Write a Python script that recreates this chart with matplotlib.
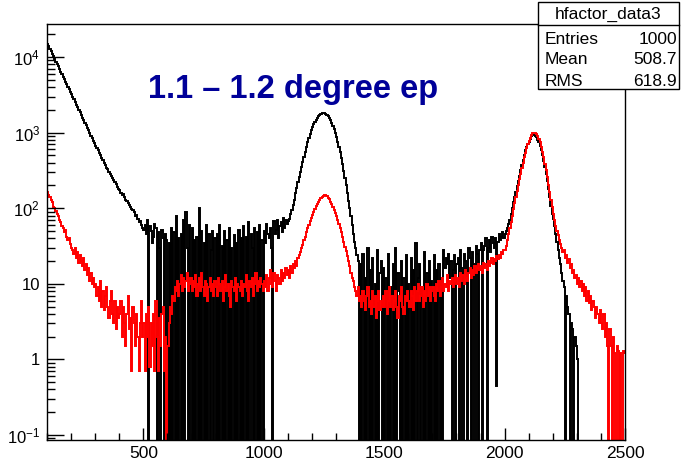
import numpy as np
import matplotlib
matplotlib.use("Agg")
import matplotlib.pyplot as plt
from matplotlib.ticker import MultipleLocator, LogLocator, FixedLocator, FuncFormatter, NullFormatter

plt.rcParams['font.family'] = ['Liberation Sans', 'DejaVu Sans']
plt.rcParams['mathtext.default'] = 'regular'

# histogram binning: 5 units per bin from 100 to 2500
bin_lo = 100
bin_hi = 2500
bin_w = 5

# black histogram (one row = 100 units)
black_counts = [
    15000, 13900, 12800, 11900, 11000, 10200, 9400, 8700, 8000, 7500, 6900, 6400, 5900, 5500, 5100, 4700, 4350, 4000, 3750, 3450,
    3200, 2950, 2750, 2550, 2350, 2150, 2000, 1850, 1720, 1580, 1460, 1350, 1250, 1160, 1070, 990, 910, 850, 780, 720,
    670, 620, 580, 530, 500, 460, 430, 400, 370, 345, 330, 300, 280, 270, 250, 235, 220, 210, 190, 180,
    175, 160, 150, 155, 140, 130, 125, 118, 110, 105, 98, 95, 88, 80, 82, 72, 65, 68, 60, 55,
    52, 60, 45, 70, 0, 58, 50, 35, 42, 62, 55, 0, 48, 30, 0, 52, 40, 0, 45, 38,
    0, 35, 0, 55, 0, 48, 0, 80, 0, 40, 0, 45, 0, 70, 0, 90, 30, 0, 60, 0,
    55, 0, 38, 0, 42, 0, 100, 0, 50, 0, 35, 0, 60, 0, 45, 0, 28, 50, 0, 40,
    0, 45, 0, 60, 0, 32, 0, 50, 0, 38, 0, 55, 0, 30, 0, 44, 0, 35, 0, 52,
    0, 40, 0, 58, 0, 42, 0, 65, 0, 45, 30, 0, 55, 0, 48, 0, 60, 0, 38, 0,
    50, 35, 62, 45, 40, 55, 30, 0, 68, 45, 52, 70, 40, 58, 65, 48, 75, 55, 70, 62,
    68, 72, 85, 95, 110, 130, 160, 185, 220, 255, 300, 350, 410, 480, 560, 640, 740, 850, 960, 1070,
    1180, 1290, 1390, 1480, 1570, 1650, 1710, 1760, 1790, 1800, 1790, 1760, 1710, 1640, 1560, 1460, 1350, 1230, 1110, 990,
    870, 760, 650, 550, 460, 380, 310, 250, 200, 160, 125, 100, 78, 60, 46, 36, 30, 24, 20, 0,
    18, 0, 25, 0, 12, 0, 30, 0, 15, 0, 22, 0, 10, 0, 28, 0, 14, 20, 0, 16,
    0, 12, 0, 25, 0, 9, 0, 18, 0, 30, 0, 14, 8, 0, 20, 0, 12, 0, 24, 0,
    10, 0, 22, 0, 15, 0, 35, 0, 12, 18, 0, 9, 0, 26, 0, 14, 0, 20, 0, 11,
    0, 24, 0, 15, 0, 18, 0, 12, 0, 28, 16, 22, 18, 25, 12, 20, 0, 15, 24, 0,
    18, 22, 0, 28, 16, 0, 25, 20, 14, 0, 30, 22, 0, 26, 18, 0, 32, 25, 0, 28,
    35, 0, 28, 32, 40, 0, 30, 38, 26, 42, 35, 30, 40, 0.45, 36, 45, 38, 42, 48, 40,
    45, 50, 55, 62, 70, 85, 100, 120, 140, 165, 195, 230, 270, 320, 375, 440, 510, 580, 640, 700,
    760, 830, 890, 935, 940, 915, 870, 810, 740, 660, 580, 500, 420, 350, 285, 230, 180, 140, 108, 85,
    72, 58, 45, 36, 28, 22, 18, 14, 11, 9, 0, 7, 5, 4, 0, 3, 2.5, 0, 2, 1.5,
    1, 0, 0, 0, 0, 0, 0, 0, 0, 0, 0, 0, 0, 0, 0, 0, 0, 0, 0, 0,
    0, 0, 0, 0, 0, 0, 0, 0, 0, 0, 0, 0, 0, 0, 0, 0, 0, 0, 0, 0,
]

# red histogram
red_counts = [
    165, 150, 140, 128, 120, 105, 100, 92, 85, 78, 70, 66, 58, 55, 48, 52, 42, 38, 40, 34,
    30, 28, 25, 30, 22, 26, 19, 24, 20, 17, 22, 15, 18, 13, 16, 11, 14, 10, 12, 9,
    10, 7, 9, 6, 11, 5, 8, 4.5, 7, 9, 5, 3.5, 6, 8, 4, 3, 6, 2.5, 5, 3.5,
    4, 6, 2, 5, 3, 1.5, 4, 7, 2.5, 3.5, 0.7, 5, 3, 1.5, 4, 2, 0.7, 3, 6, 2,
    3, 0.7, 4, 2, 5, 0.8, 3, 1.5, 4, 0.7, 6, 2, 0.7, 3.5, 1.5, 4, 5, 0.7, 2, 0,
    1.5, 3, 5, 4, 7, 6, 9, 8, 11, 7, 10, 13, 8, 12, 9, 11, 14, 8, 10, 12,
    8, 11, 9, 13, 7, 10, 12, 8, 14, 9, 7, 11, 10, 6, 9, 12, 8, 10, 7, 11,
    9, 7, 12, 10, 8, 11, 6, 9, 13, 8, 10, 7, 5, 11, 9, 8, 12, 6, 10, 9,
    8, 11, 7, 10, 9, 13, 8, 6, 11, 9, 12, 7, 10, 14, 8, 11, 9, 12, 10, 8,
    11, 9, 13, 8, 12, 15, 10, 9, 14, 11, 8, 13, 12, 10, 15, 11, 14, 12, 16, 13,
    15, 12, 17, 14, 18, 16, 20, 17, 22, 24, 26, 30, 33, 38, 42, 48, 54, 60, 68, 75,
    82, 90, 98, 106, 114, 122, 130, 136, 142, 147, 150, 148, 144, 138, 131, 122, 113, 104, 95, 86,
    78, 70, 62, 55, 48, 42, 36, 31, 27, 23, 20, 17, 14, 12, 11, 9, 8, 7, 9, 6,
    7, 5, 8, 6, 4.5, 7, 9, 5, 6, 4, 8, 5, 7, 3.5, 6, 8, 4.5, 6, 5, 7,
    5, 8, 4, 6, 9, 5, 7, 4.5, 6, 8, 5, 3.5, 7, 6, 9, 5, 4, 7, 6, 8,
    6, 5, 8, 7, 4.5, 9, 6, 8, 10, 6, 7, 9, 5, 8, 6, 10, 7, 9, 6, 8,
    9, 7, 6, 10, 8, 11, 7, 9, 12, 8, 10, 9, 13, 8, 11, 10, 12, 9, 11, 13,
    10, 12, 9, 14, 11, 13, 10, 15, 12, 11, 14, 16, 12, 15, 13, 17, 14, 16, 18, 15,
    17, 14, 19, 16, 18, 15, 20, 17, 19, 22, 18, 21, 20, 23, 21, 24, 22, 26, 25, 28,
    28, 32, 38, 46, 55, 66, 80, 98, 118, 140, 168, 200, 240, 285, 340, 400, 470, 545, 620, 700,
    780, 860, 930, 980, 1000, 990, 950, 890, 820, 740, 650, 560, 470, 390, 320, 260, 205, 165, 130, 105,
    85, 70, 58, 50, 44, 38, 34, 30, 26, 28, 22, 24, 19, 21, 16, 18, 14, 15, 12, 13,
    10, 12, 9, 11, 8, 10, 7, 9, 6, 8, 5.5, 7, 4.5, 6, 5, 3.5, 5, 4, 3, 4.5,
    3, 2.5, 4, 2, 3, 1.5, 0, 2.5, 1.5, 0, 2, 1.2, 0, 1.5, 1.3, 0, 1.2, 0, 1.3, 1.2,
]

title_text = "1.1 \u2013 1.2 degree ep"
stats_name = "hfactor_data3"
stats_rows = [("Entries", "1000"), ("Mean", "508.7"), ("RMS", "618.9")]

edges = np.arange(bin_lo, bin_hi + bin_w, bin_w)
assert len(black_counts) == len(edges) - 1, len(black_counts)
assert len(red_counts) == len(edges) - 1, len(red_counts)

fig = plt.figure(figsize=(6.81, 4.67), dpi=100)
ax = fig.add_axes([47 / 681, 1 - 440 / 467, 578 / 681, 416 / 467])

ymin, ymax = 0.0859, 27300
# empty bins drop to the bottom of the frame like in ROOT
b = np.array(black_counts, dtype=float)
r = np.array(red_counts, dtype=float)
b[b <= 0] = 1e-3
r[r <= 0] = 1e-3
ax.stairs(b, edges, baseline=None, color='black', lw=1.4)
ax.stairs(r, edges, baseline=None, color='#ff0000', lw=1.4)

ax.set_yscale('log')
ax.set_xlim(bin_lo, bin_hi)
ax.set_ylim(ymin, ymax)

ax.xaxis.set_major_locator(MultipleLocator(500))
ax.xaxis.set_minor_locator(MultipleLocator(100))
ax.yaxis.set_major_locator(FixedLocator([0.1, 1, 10, 100, 1000, 10000]))
ax.yaxis.set_minor_locator(LogLocator(base=10, subs=np.arange(2, 10)))
ax.yaxis.set_minor_formatter(NullFormatter())


def ylab(v, pos):
    e = int(round(np.log10(v)))
    if e == 0:
        return '1'
    if e == 1:
        return '10'
    return '$10^{%d}$' % e


ax.yaxis.set_major_formatter(FuncFormatter(ylab))
ax.xaxis.set_major_formatter(FuncFormatter(lambda v, p: '%d' % v))

ax.tick_params(which='both', direction='in', top=False, right=False, width=1)
ax.tick_params(axis='x', which='major', length=9, labelsize=12.5, pad=4)
ax.tick_params(axis='x', which='minor', length=5)
ax.tick_params(axis='y', which='major', length=12, labelsize=12, pad=5)
ax.tick_params(axis='y', which='minor', length=6)
for s in ax.spines.values():
    s.set_linewidth(1)

fig.text(148 / 681, 1 - 98 / 467, title_text, color='#000099', fontsize=23.5,
         fontweight='bold', ha='left', va='baseline')

# stats box
bx0, bx1 = 538 / 681, 679 / 681
by0, by1 = 1 - 89 / 467, 1 - 2 / 467
hline = 1 - 25 / 467
fig.patches.append(plt.Rectangle((bx0, by0), bx1 - bx0, by1 - by0, transform=fig.transFigure,
                                 facecolor='white', edgecolor='black', lw=1, zorder=5))
fig.lines.append(plt.Line2D([bx0, bx1], [hline, hline], transform=fig.transFigure,
                            color='black', lw=1, zorder=6))
fig.text((bx0 + bx1) / 2, 1 - 14 / 467, stats_name, ha='center', va='center', fontsize=12.5, zorder=7)
for i, (k, v) in enumerate(stats_rows):
    yy = 1 - (39 + i * 21) / 467
    fig.text(545 / 681, yy, k, ha='left', va='center', fontsize=12.5, zorder=7)
    fig.text(677 / 681, yy, v, ha='right', va='center', fontsize=12.5, zorder=7)

fig.savefig('out.png', dpi=100, facecolor='white')
